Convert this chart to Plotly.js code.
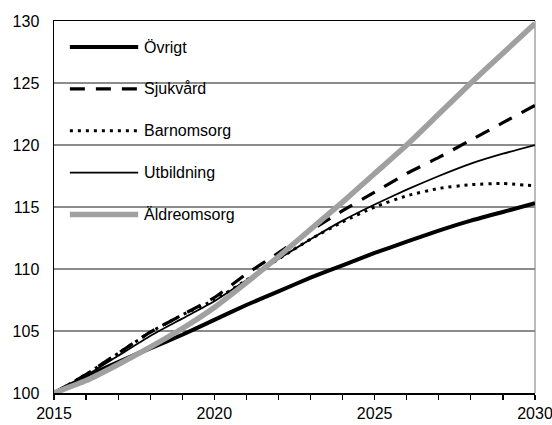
<!DOCTYPE html>
<html>
<head>
<meta charset="utf-8">
<script src="https://cdn.plot.ly/plotly-3.0.1.min.js"></script>
<style>
html,body{margin:0;padding:0;background:#fff;}
#chart{width:552px;height:425px;}
</style>
</head>
<body>
<div id="chart"></div>
<script>
// ---- data ----
const years = [2015,2016,2017,2018,2019,2020,2021,2022,2023,2024,2025,2026,2027,2028,2029,2030];
const ovrigt      = [100,101.3,102.5,103.6,104.7,105.9,107.1,108.2,109.3,110.3,111.3,112.2,113.1,113.9,114.6,115.3];
const sjukvard    = [100,101.5,103.2,104.9,106.3,107.7,109.6,111.3,113.1,114.7,116.2,117.7,119.0,120.4,121.8,123.2];
const barnomsorg  = [100,101.5,103.2,104.9,106.3,107.5,109.1,110.8,112.4,113.8,115.0,115.9,116.5,116.8,116.9,116.7];
const utbildning  = [100,101.4,103.0,104.6,106.0,107.4,109.1,110.8,112.4,113.9,115.2,116.4,117.5,118.5,119.3,120.0];
const aldreomsorg = [100,101.0,102.3,103.7,105.2,106.9,108.9,111.0,113.2,115.4,117.7,120.0,122.5,125.0,127.4,129.8];
const seriesNames = ["Övrigt","Sjukvård","Barnomsorg","Utbildning","Äldreomsorg"];
const xTickVals = years;
const xTickText = ["2015","","","","","2020","","","","","2025","","","","","2030"];
const yTickVals = [100,105,110,115,120,125,130];

// ---- styles ----
const FONT = "'Liberation Sans', Arial, sans-serif";
const styles = [
  {color:'#000000', width:4,   dash:'solid'},
  {color:'#000000', width:3.2, dash:'15px,11px'},
  {color:'#000000', width:3,   dash:'3px,5px'},
  {color:'#000000', width:1.8, dash:'solid'},
  {color:'#a0a0a0', width:5.5, dash:'solid'}
];
const values = [ovrigt, sjukvard, barnomsorg, utbildning, aldreomsorg];

const traces = values.map((v,i)=>({
  type:'scatter', mode:'lines', x:years, y:v, name:seriesNames[i],
  line:{color:styles[i].color, width:styles[i].width, dash:styles[i].dash, shape:'spline', smoothing:0.5},
  showlegend:false, hoverinfo:'skip'
}));

// manual legend (style only)
const shapes = [];
const annotations = [];
const legTop = 0.930, legStep = 0.1125, legX0 = 0.033, legX1 = 0.175, legTextX = 0.183;
seriesNames.forEach((n,i)=>{
  const yy = legTop - i*legStep;
  shapes.push({type:'line', xref:'paper', yref:'paper', x0:legX0, x1:legX1, y0:yy, y1:yy,
    line:{color:styles[i].color, width:styles[i].width, dash:styles[i].dash}});
  annotations.push({xref:'paper', yref:'paper', x:legTextX, y:yy, text:n, showarrow:false,
    xanchor:'left', yanchor:'middle', font:{family:FONT, size:16, color:'#000'}});
});
// right border
shapes.push({type:'line', xref:'paper', yref:'paper', x0:1, x1:1, y0:0, y1:1, line:{color:'#8c8c8c', width:1.2}, layer:'below'});

const layout = {
  width:552, height:425,
  margin:{l:54, r:17, t:21, b:32},
  paper_bgcolor:'#fff', plot_bgcolor:'#fff',
  font:{family:FONT, size:16, color:'#000'},
  xaxis:{range:[2015,2030], tickvals:xTickVals, ticktext:xTickText, ticks:'outside', ticklen:5, tickwidth:1.2,
    tickcolor:'#000', showline:true, linecolor:'#000', linewidth:1.5, mirror:true, showgrid:false, zeroline:false,
    ticklabeloverflow:'allow', tickfont:{family:FONT, size:16, color:'#000'}, fixedrange:true},
  xaxis2:{range:[2015,2030], overlaying:'x', anchor:'y', side:'bottom', tickvals:xTickVals, ticks:'inside', ticklen:5,
    tickwidth:1.2, tickcolor:'#000', showticklabels:false, showline:false, showgrid:false, zeroline:false},
  yaxis:{range:[100,130], tickvals:yTickVals, ticks:'', showline:true, linecolor:'#000', linewidth:1.5,
    showgrid:true, gridcolor:'#8c8c8c', gridwidth:1.4, zeroline:false, ticklabelstandoff:10,
    tickfont:{family:FONT, size:16, color:'#000'}, fixedrange:true},
  shapes:shapes, annotations:annotations, showlegend:false
};

Plotly.newPlot('chart', traces, layout, {displayModeBar:false, staticPlot:true});
</script>
</body>
</html>
